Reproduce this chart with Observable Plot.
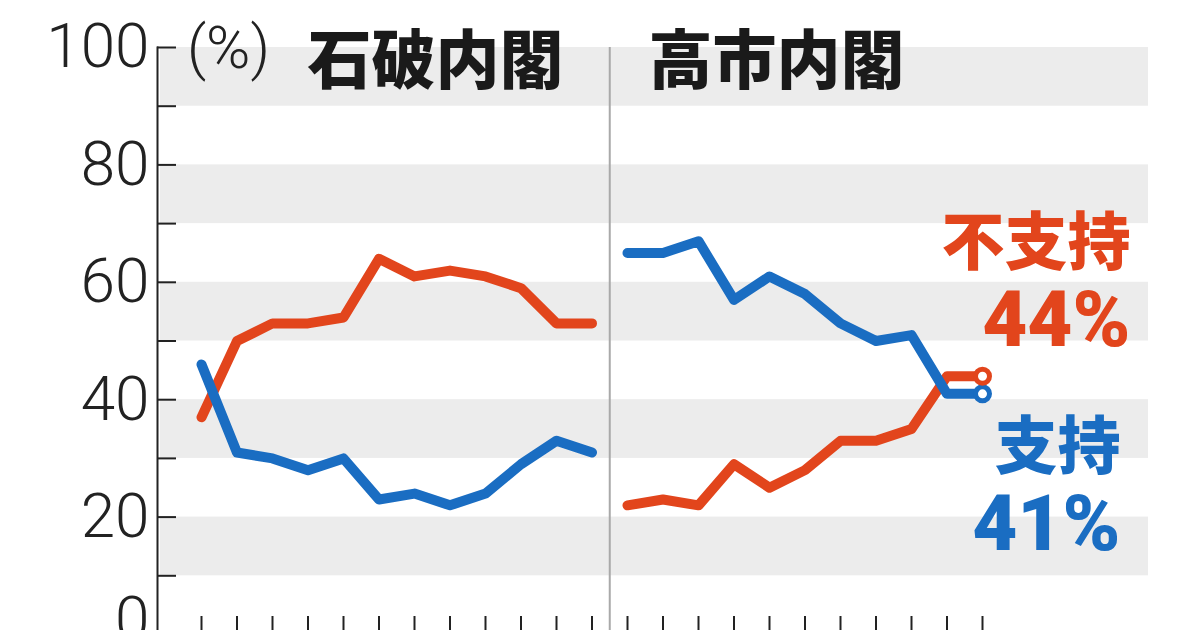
<!DOCTYPE html>
<html><head><meta charset="utf-8">
<script src="https://cdn.jsdelivr.net/npm/d3@7"></script>
<script src="https://cdn.jsdelivr.net/npm/@observablehq/plot@0.6"></script>
<style>html,body{margin:0;padding:0;background:#fff;overflow:hidden}</style>
</head><body><div id="chart"></div>
<script>
// ---- data ----
const ishibaSupport    = [46,31,30,28,30,23,24,22,24,29,33,31];
const ishibaDisapprove = [37,50,53,53,54,64,61,62,61,59,53,53];
const takaichiSupport    = [65,65,67,57,61,58,53,50,51,41,41];
const takaichiDisapprove = [22,23,22,29,25,28,33,33,35,44,44];
const cabinetTitles = ["石破内閣","高市内閣"];
const seriesNames = ["支持","不支持"];
const unitLabel = "(%)";
const yLabelTicks = [20,40,60,80,100];
const yZeroTick = [0];
const yMinorTicks = [0,10,20,30,40,50,60,70,80,90,100];
const bandStarts = [10,30,50,70,90];

const BLUE = "#1a6dc2", RED = "#e2451c";

// build rows
const rows = [];
const nI = ishibaSupport.length;
ishibaSupport.forEach((v,i)=>rows.push({i, v, s:"支持", c:"石破"}));
ishibaDisapprove.forEach((v,i)=>rows.push({i, v, s:"不支持", c:"石破"}));
takaichiSupport.forEach((v,i)=>rows.push({i:i+nI, v, s:"支持", c:"高市"}));
takaichiDisapprove.forEach((v,i)=>rows.push({i:i+nI, v, s:"不支持", c:"高市"}));
const nTotal = nI + takaichiSupport.length;
const indices = d3.range(nTotal);
const divider = (nI - 1 + nI) / 2;
const lastIdx = nTotal - 1;
const ends = rows.filter(d => d.i === lastIdx);
const lastSupport = takaichiSupport[takaichiSupport.length-1];
const lastDis = takaichiDisapprove[takaichiDisapprove.length-1];

const numFont = "Roboto,'Liberation Sans',sans-serif";
const cjkFont = "'Noto Sans CJK JP','Noto Sans CJK SC',sans-serif";
const axisText = {anchor: "left", label: null, tickSize: 0, tickPadding: 8, fontSize: 62, fontWeight: 300, letterSpacing: -4, fontFamily: numFont, fill: "#222", tickFormat: d => String(d)};

const chart = Plot.plot({
  width: 1200, height: 630,
  marginLeft: 157, marginRight: 52, marginTop: 47, marginBottom: 0,
  x: {domain: [0, lastIdx], range: [201, 982], axis: null},
  y: {domain: [0, 100], range: [634, 47], axis: null},
  color: {domain: seriesNames, range: [BLUE, RED]},
  style: {background: "#fff", overflow: "hidden"},
  marks: [
    Plot.rect(bandStarts, {y1: d => d, y2: d => d + 10, fill: "#ececec", insetLeft: 3}),
    Plot.ruleX([divider], {stroke: "#a9a9a9", strokeWidth: 2}),
    Plot.frame({anchor: "left", stroke: "#222", strokeWidth: 2}),
    Plot.axisY(yMinorTicks, {anchor: "left", label: null, tickSize: -19, tickFormat: () => "", stroke: "#222", strokeWidth: 2}),
    Plot.axisY(yLabelTicks, axisText),
    Plot.axisY(yZeroTick, {...axisText, dy: -14}),
    Plot.axisX(indices, {anchor: "bottom", label: null, tickSize: -14, tickFormat: () => "", stroke: "#222", strokeWidth: 2}),
    Plot.line(rows.filter(d => d.s === "不支持"), {x: "i", y: "v", z: "c", stroke: "s", strokeWidth: 10, strokeLinejoin: "round", strokeLinecap: "round"}),
    Plot.line(rows.filter(d => d.s === "支持"), {x: "i", y: "v", z: "c", stroke: "s", strokeWidth: 10, strokeLinejoin: "round", strokeLinecap: "round"}),
    Plot.dot(ends, {x: "i", y: "v", r: 7, fill: "white", stroke: "s", strokeWidth: 5}),
    // unit label
    Plot.text([unitLabel], {frameAnchor: "top-left", dx: 71, dy: 1, text: d => d, fontSize: 60, fontWeight: 300, fontFamily: numFont, fill: "#222", textAnchor: "middle", lineAnchor: "middle", letterSpacing: 4}),
    // cabinet titles
    Plot.text([cabinetTitles[0]], {frameAnchor: "top-left", dx: 278, dy: 15, text: d => d, fontSize: 64, fontWeight: 900, fontFamily: cjkFont, fill: "#1a1a1a", textAnchor: "middle", lineAnchor: "middle"}),
    Plot.text([cabinetTitles[1]], {frameAnchor: "top-left", dx: 619, dy: 15, text: d => d, fontSize: 64, fontWeight: 900, fontFamily: cjkFont, fill: "#1a1a1a", textAnchor: "middle", lineAnchor: "middle"}),
    // series labels
    Plot.text([seriesNames[1]], {frameAnchor: "top-left", dx: 973, dy: 196, text: d => d, fontSize: 63, fontWeight: 900, fontFamily: cjkFont, fill: RED, textAnchor: "end", lineAnchor: "middle"}),
    Plot.text([lastDis], {frameAnchor: "top-left", dx: 973, dy: 274, text: d => d + "%", fontSize: 78, fontWeight: 900, fontFamily: numFont, fill: RED, textAnchor: "end", lineAnchor: "middle", letterSpacing: -1}),
    Plot.text([seriesNames[0]], {frameAnchor: "top-left", dx: 963, dy: 400, text: d => d, fontSize: 63, fontWeight: 900, fontFamily: cjkFont, fill: BLUE, textAnchor: "end", lineAnchor: "middle"}),
    Plot.text([lastSupport], {frameAnchor: "top-left", dx: 963, dy: 478, text: d => d + "%", fontSize: 78, fontWeight: 900, fontFamily: numFont, fill: BLUE, textAnchor: "end", lineAnchor: "middle", letterSpacing: -1})
  ]
});
document.getElementById("chart").appendChild(chart);
</script>
</body></html>
